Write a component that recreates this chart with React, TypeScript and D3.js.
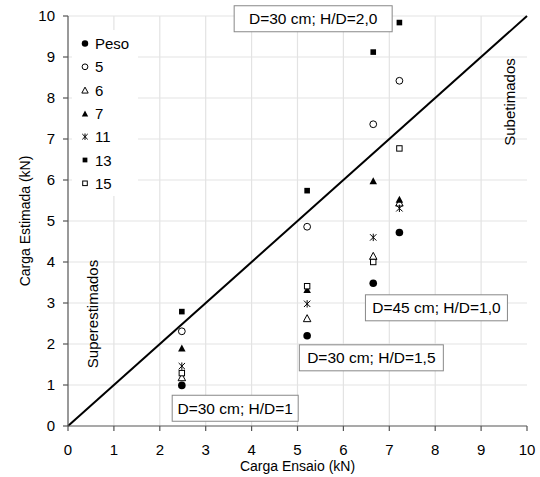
import React from "react";
import * as d3 from "d3";

const xTicks = [0, 1, 2, 3, 4, 5, 6, 7, 8, 9, 10];
const yTicks = [0, 1, 2, 3, 4, 5, 6, 7, 8, 9, 10];
const xVals = [2.48, 5.21, 6.65, 7.22];
const peso = [0.99, 2.2, 3.48, 4.72];
const s5 = [2.31, 4.86, 7.36, 8.42];
const s6 = [1.19, 2.63, 4.15, 5.45];
const s7 = [1.9, 3.33, 5.98, 5.53];
const s11 = [1.46, 2.98, 4.6, 5.31];
const s13 = [2.79, 5.74, 9.12, 9.84];
const s15 = [1.29, 3.41, 4.0, 6.77];
const seriesNames = ["Peso", "5", "6", "7", "11", "13", "15"];
const seriesShapes = ["fcircle", "ocircle", "otri", "ftri", "star", "fsquare", "osquare"];
const seriesValues = [peso, s5, s6, s7, s11, s13, s15];

const annotations = [
  { text: "D=30 cm; H/D=2,0", x: 3.62, y: 10.25, w: 158 },
  { text: "D=30 cm; H/D=1", x: 2.27, y: 0.75, w: 126 },
  { text: "D=30 cm; H/D=1,5", x: 5.04, y: 1.98, w: 144 },
  { text: "D=45 cm; H/D=1,0", x: 6.48, y: 3.2, w: 142 },
];

const FONT = "'Liberation Sans', Arial, sans-serif";

function Marker({ shape, cx, cy, s = 1 }: { shape: string; cx: number; cy: number; s?: number }) {
  switch (shape) {
    case "fcircle":
      return <circle cx={cx} cy={cy} r={3.8 * s} fill="#000" />;
    case "ocircle":
      return <circle cx={cx} cy={cy} r={3.4 * s} fill="#fff" stroke="#000" strokeWidth={1} />;
    case "otri": {
      const h = 7 * s, w = 7.5 * s;
      return (
        <path
          d={`M${cx},${cy - h / 2}L${cx + w / 2},${cy + h / 2}L${cx - w / 2},${cy + h / 2}Z`}
          fill="#fff"
          stroke="#000"
          strokeWidth={1}
        />
      );
    }
    case "ftri": {
      const h = 7 * s, w = 7.5 * s;
      return (
        <path
          d={`M${cx},${cy - h / 2}L${cx + w / 2},${cy + h / 2}L${cx - w / 2},${cy + h / 2}Z`}
          fill="#000"
        />
      );
    }
    case "star": {
      const r = 3.2 * s;
      return (
        <path
          d={`M${cx - r},${cy - r}L${cx + r},${cy + r}M${cx + r},${cy - r}L${cx - r},${cy + r}M${cx},${cy - r - 0.5}L${cx},${cy + r + 0.5}`}
          stroke="#000"
          strokeWidth={1}
          fill="none"
        />
      );
    }
    case "fsquare": {
      const a = 5.6 * s;
      return <rect x={cx - a / 2} y={cy - a / 2} width={a} height={a} fill="#000" />;
    }
    case "osquare": {
      const a = 5.4 * s;
      return <rect x={cx - a / 2} y={cy - a / 2} width={a} height={a} fill="#fff" stroke="#000" strokeWidth={1} />;
    }
  }
  return null;
}

export default function App() {
  const W = 540, H = 477;
  const x = d3.scaleLinear().domain([0, 10]).range([68, 527]);
  const y = d3.scaleLinear().domain([0, 10]).range([426, 16]);
  const line = d3.line<[number, number]>().x((d) => x(d[0])).y((d) => y(d[1]));

  return (
    <svg width={W} height={H} style={{ position: "absolute", left: 0, top: 0, background: "#fff" }} fontFamily={FONT}>
      <rect width={W} height={H} fill="#fff" />
      {/* grid */}
      {xTicks.filter((t) => t > 0 && t < 10).map((t) => (
        <line key={"gx" + t} x1={x(t)} x2={x(t)} y1={y(0)} y2={y(10)} stroke="#e3e3e3" strokeWidth={1.2} />
      ))}
      {yTicks.filter((t) => t > 0).map((t) => (
        <line key={"gy" + t} x1={x(0)} x2={x(10)} y1={y(t)} y2={y(t)} stroke="#e3e3e3" strokeWidth={1.2} />
      ))}
      {/* legend background */}
      <rect x={72} y={30} width={66} height={166} fill="#fff" />
      {/* diagonal */}
      <path d={line([[0, 0], [10, 10]]) || ""} stroke="#000" strokeWidth={2} fill="none" />
      {/* axes */}
      <line x1={x(0)} x2={x(10)} y1={y(0)} y2={y(0)} stroke="#555" strokeWidth={1.2} />
      <line x1={x(0)} x2={x(0)} y1={y(0)} y2={y(10)} stroke="#555" strokeWidth={1.2} />
      {xTicks.map((t) => (
        <g key={"xt" + t}>
          <line x1={x(t)} x2={x(t)} y1={y(0)} y2={y(0) + 5} stroke="#555" strokeWidth={1.2} />
          <text x={x(t)} y={455} textAnchor="middle" fontSize={15} fill="#000">
            {t}
          </text>
        </g>
      ))}
      {yTicks.map((t) => (
        <g key={"yt" + t}>
          <line x1={x(0) - 5} x2={x(0)} y1={y(t)} y2={y(t)} stroke="#555" strokeWidth={1.2} />
          <text x={55} y={y(t) + 5} textAnchor="end" fontSize={15} fill="#000">
            {t}
          </text>
        </g>
      ))}
      <text x={(x(0) + x(10)) / 2} y={471} textAnchor="middle" fontSize={14} fill="#000">
        Carga Ensaio (kN)
      </text>
      <text transform={`translate(30,${(y(0) + y(10)) / 2}) rotate(-90)`} textAnchor="middle" fontSize={14} fill="#000">
        Carga Estimada (kN)
      </text>
      <text transform={`translate(98,314) rotate(-90)`} textAnchor="middle" fontSize={15} fill="#000">
        Superestimados
      </text>
      <text transform={`translate(515,102) rotate(-90)`} textAnchor="middle" fontSize={15} fill="#000">
        Subetimados
      </text>
      {/* data */}
      {seriesValues.map((vals, si) => (
        <g key={"s" + si}>
          {vals.map((v, i) => (
            <Marker key={i} shape={seriesShapes[si]} cx={x(xVals[i])} cy={y(v)} />
          ))}
        </g>
      ))}
      {/* legend */}
      {seriesNames.map((n, i) => (
        <g key={"lg" + i}>
          <Marker shape={seriesShapes[i]} cx={85} cy={43.5 + i * 23.3} s={0.85} />
          <text x={95} y={43.5 + i * 23.3 + 5.5} fontSize={15} fill="#000">
            {n}
          </text>
        </g>
      ))}
      {/* annotations */}
      {annotations.map((a, i) => (
        <g key={"an" + i}>
          <rect x={x(a.x)} y={y(a.y)} width={a.w} height={26} fill="#fff" stroke="#888" strokeWidth={1} />
          <text x={x(a.x) + a.w / 2} y={y(a.y) + 18.5} textAnchor="middle" fontSize={15.5} fill="#000">
            {a.text}
          </text>
        </g>
      ))}
    </svg>
  );
}
